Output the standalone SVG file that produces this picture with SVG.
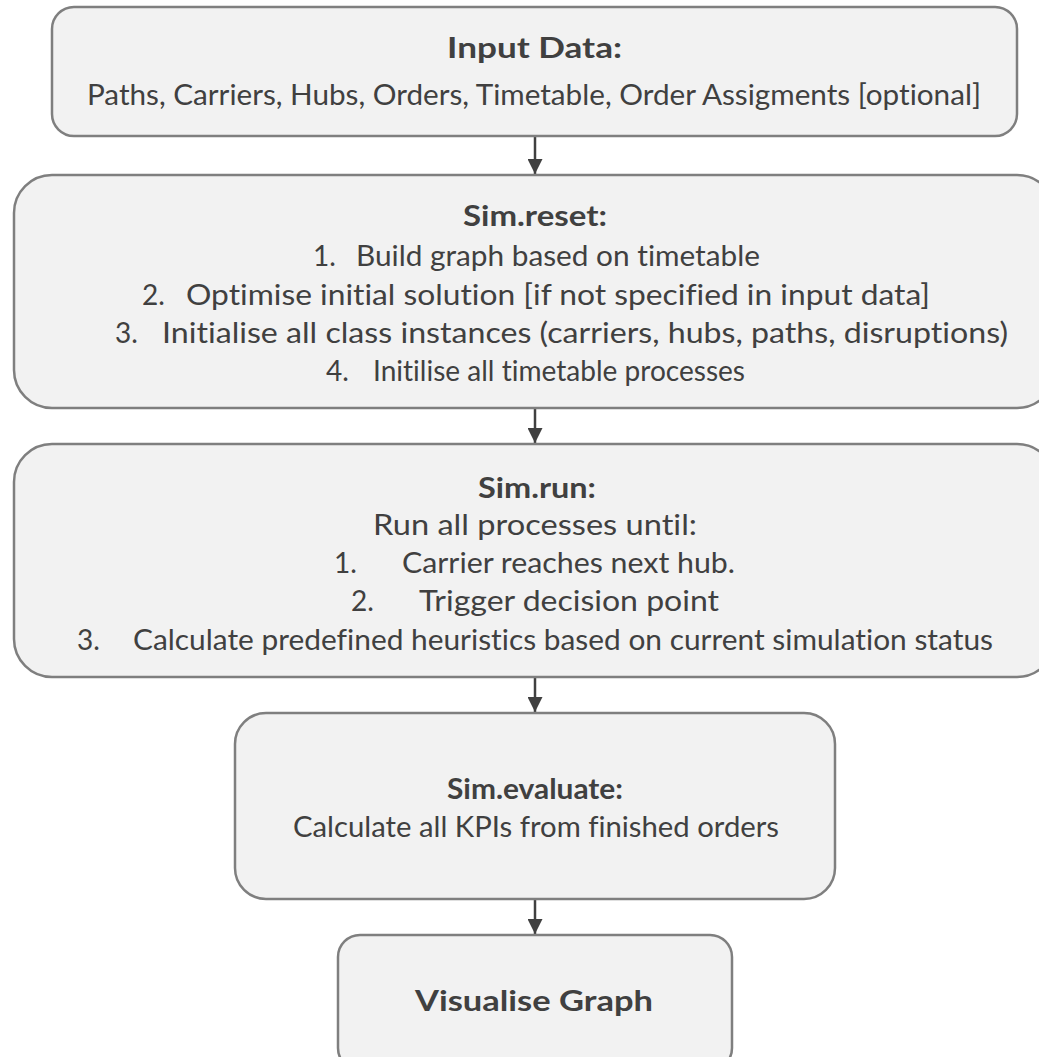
<svg xmlns="http://www.w3.org/2000/svg" width="1039" height="1057" viewBox="0 0 1039 1057">
<defs>
<style>
.box{fill:#f2f2f2;stroke:#7f7f7f;stroke-width:2.5}
.t{font-family:Lato,"Open Sans","Liberation Sans",sans-serif;fill:#404040;font-size:28px;font-variant-ligatures:none}
.b{font-weight:bold}
.m{text-anchor:middle}
.conn{stroke:#404040;stroke-width:2.5;fill:none}
</style>
<marker id="ah" markerWidth="6" markerHeight="6" refX="6" refY="3" orient="auto" markerUnits="strokeWidth">
<path d="M0,0 L6,3 L0,6 Z" fill="#404040"/>
</marker>
</defs>
<rect width="1039" height="1057" fill="#ffffff"/>
<g id="connectors">
<line class="conn" x1="535" y1="137" x2="535" y2="174" marker-end="url(#ah)"/>
<line class="conn" x1="535" y1="409" x2="535" y2="443" marker-end="url(#ah)"/>
<line class="conn" x1="535" y1="678" x2="535" y2="712" marker-end="url(#ah)"/>
<line class="conn" x1="535" y1="900" x2="535" y2="934" marker-end="url(#ah)"/>
</g>
<g id="input-data">
<rect class="box" x="52" y="7" width="965" height="129" rx="22"/>
<text class="t b" x="447" y="58" font-size="32" textLength="175" lengthAdjust="spacingAndGlyphs">Input Data:</text>
<text class="t" x="87" y="105" textLength="894" lengthAdjust="spacingAndGlyphs">Paths, Carriers, Hubs, Orders, Timetable, Order Assigments [optional]</text>
</g>
<g id="sim-reset">
<rect class="box" x="14" y="175" width="1041" height="233" rx="38"/>
<text class="t b" x="463" y="226" font-size="30" textLength="144" lengthAdjust="spacingAndGlyphs">Sim.reset:</text>
<text class="t" x="313" y="266">1.</text><text class="t" x="356" y="266" textLength="404" lengthAdjust="spacingAndGlyphs">Build graph based on timetable</text>
<text class="t" x="142" y="305">2.</text><text class="t" x="186" y="305" textLength="744" lengthAdjust="spacingAndGlyphs">Optimise initial solution [if not specified in input data]</text>
<text class="t" x="115" y="343">3.</text><text class="t" x="162" y="343" textLength="846" lengthAdjust="spacingAndGlyphs">Initialise all class instances (carriers, hubs, paths, disruptions)</text>
<text class="t" x="326" y="381">4.</text><text class="t" x="373" y="381" textLength="372" lengthAdjust="spacingAndGlyphs">Initilise all timetable processes</text>
</g>
<g id="sim-run">
<rect class="box" x="14" y="444" width="1041" height="233" rx="38"/>
<text class="t b" x="478" y="498" font-size="30" textLength="118" lengthAdjust="spacingAndGlyphs">Sim.run:</text>
<text class="t" x="373" y="535" textLength="324" lengthAdjust="spacingAndGlyphs">Run all processes until:</text>
<text class="t" x="334" y="573">1.</text><text class="t" x="402" y="573" textLength="333" lengthAdjust="spacingAndGlyphs">Carrier reaches next hub.</text>
<text class="t" x="351" y="611">2.</text><text class="t" x="419" y="611" textLength="300" lengthAdjust="spacingAndGlyphs">Trigger decision point</text>
<text class="t" x="77" y="650">3.</text><text class="t" x="133" y="650" textLength="860" lengthAdjust="spacingAndGlyphs">Calculate predefined heuristics based on current simulation status</text>
</g>
<g id="sim-evaluate">
<rect class="box" x="235" y="713" width="600" height="186" rx="31"/>
<text class="t b" x="447" y="799" font-size="30" textLength="176" lengthAdjust="spacingAndGlyphs">Sim.evaluate:</text>
<text class="t" x="293" y="837" textLength="486" lengthAdjust="spacingAndGlyphs">Calculate all KPIs from finished orders</text>
</g>
<g id="visualise-graph">
<rect class="box" x="338" y="935" width="394" height="135" rx="22"/>
<text class="t b" x="415" y="1011" font-size="32" textLength="238" lengthAdjust="spacingAndGlyphs">Visualise Graph</text>
</g>
</svg>
